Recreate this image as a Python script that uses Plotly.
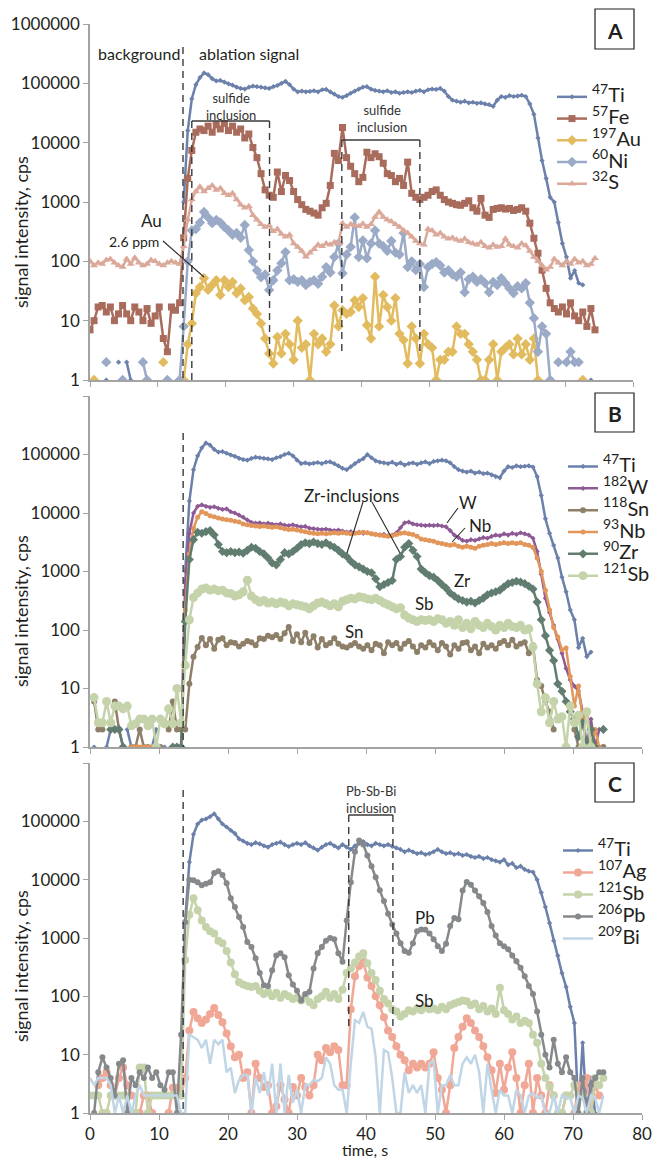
import plotly.graph_objects as go

# ---------------- data ----------------
TIME_S = [0.0, 0.6, 1.2, 1.8, 2.4, 3.0, 3.6, 4.2, 4.8, 5.4,
          6.0, 6.6, 7.2, 7.8, 8.4, 9.0, 9.6, 10.2, 10.8, 11.4,
          12.0, 12.6, 13.2, 13.8, 14.4, 15.0, 15.6, 16.2, 16.8, 17.4,
          18.0, 18.6, 19.2, 19.8, 20.4, 21.0, 21.6, 22.2, 22.8, 23.4,
          24.0, 24.6, 25.2, 25.8, 26.4, 27.0, 27.6, 28.2, 28.8, 29.4,
          30.0, 30.6, 31.2, 31.8, 32.4, 33.0, 33.6, 34.2, 34.8, 35.4,
          36.0, 36.6, 37.2, 37.8, 38.4, 39.0, 39.6, 40.2, 40.8, 41.4,
          42.0, 42.6, 43.2, 43.8, 44.4, 45.0, 45.6, 46.2, 46.8, 47.4,
          48.0, 48.6, 49.2, 49.8, 50.4, 51.0, 51.6, 52.2, 52.8, 53.4,
          54.0, 54.6, 55.2, 55.8, 56.4, 57.0, 57.6, 58.2, 58.8, 59.4,
          60.0, 60.6, 61.2, 61.8, 62.4, 63.0, 63.6, 64.2, 64.8, 65.4,
          66.0, 66.6, 67.2, 67.8, 68.4, 69.0, 69.6, 70.2, 70.8, 71.4,
          72.0, 72.6, 73.2, 73.8, 74.4]

N = None

# Panel A
A_TI = [N, N, N, N, 1, N, N, 2, N, 2,
        1, N, N, N, N, N, N, N, N, N,
        N, N, N, 1000, 16000, 55000, 95000, 125000, 150000, 140000,
        120000, 110000, 112000, 105000, 98000, 93000, 86000, 82000, 80000, 86000,
        90000, 88000, 86000, 84000, 82000, 88000, 92000, 100000, 108000, 95000,
        80000, 72000, 74000, 72000, 73000, 75000, 72000, 78000, 79000, 72000,
        66000, 60000, 58000, 62000, 68000, 74000, 80000, 86000, 88000, 80000,
        76000, 74000, 72000, 75000, 70000, 72000, 68000, 70000, 72000, 70000,
        74000, 76000, 72000, 78000, 80000, 79000, 82000, 74000, 60000, 52000,
        50000, 48000, 50000, 47000, 48000, 46000, 47000, 45000, 44000, 41000,
        52000, 60000, 58000, 62000, 60000, 61000, 63000, 60000, 45000, 30000,
        12000, 5000, 2500, 1200, 1000, 450, 200, 118, 52, 70,
        43, 40, N, 1, N]
A_FE = [7, 10, 17, 18, 14, 17, 10, 13, 18, 13,
        10, 17, 14, 10, 16, 9, 12, 17, 5, 3,
        17, 15, 20, 250, 2500, 7400, 15000, 17000, 16000, 19000,
        15000, 20000, 17000, 21000, 16000, 19000, 15000, 17000, 12000, 14000,
        8300, 5600, 3000, 1600, 1300, 1200, 3200, 1500, 2800, 2300,
        1500, 1100, 900, 750, 700, 650, 600, 800, 950, 1900,
        6600, 5000, 18000, 5600, 4000, 3000, 2200, 2600, 6900, 5600,
        6500, 5800, 4500, 3000, 2800, 2200, 2500, 1900, 4700, 1400,
        1200, 1100, 1200, 1300, 1500, 1600, 1300, 1100, 1000, 950,
        900, 880, 950, 1050, 800, 700, 1150, 600, 550, 750,
        780, 800, 760, 780, 720, 750, 800, 700, 440, 245,
        137, 71, 35, 20, 16, 14, 17, 13, 20, 12,
        10, 14, 8, 16, 7]
A_AU = [N, 1, N, N, N, N, N, N, N, N,
        N, N, N, N, N, N, N, N, 2, N,
        N, N, N, 1, 4, 9, 29, 37, 52, 33,
        40, 48, 27, 48, 37, 45, 29, 35, 22, 25,
        16, 13, 9, 5, 2.8, 1.9, 5.3, 2.8, 6, 4,
        2.2, 10, 3.5, 4, 1, 6, 4, 5, 3, 4,
        18, 8, 15, 13, 14, 22, 17, 24, 8.4, 5,
        55, 8, 27, 17, 10, 24, 6, 4.7, 1.9, 8,
        5, 1.9, 6, 4, 3.5, 1, 2.2, 2.2, 3, 3,
        8, 6, 6, 4, 3, 2.2, 1, 1, 2.2, 4,
        1, 3, 3.5, 4, 2.7, 5, 2.7, 4, 2.2, 5,
        1, N, N, N, N, N, N, N, N, N,
        N, 1, N, N, N]
A_NI = [N, N, N, N, 2, N, N, N, 1, N,
        N, N, N, 2, 1, N, N, N, N, 1,
        N, N, 1, 8, 100, 330, 350, 450, 680, 550,
        440, 500, 450, 380, 330, 280, 300, 250, 410, 155,
        100, 70, 54, 60, 33, 48, 70, 93, 143, 48,
        50, 45, 48, 40, 45, 48, 42, 55, 80, 65,
        118, 200, 63, 130, 175, 550, 118, 225, 113, 200,
        330, 200, 180, 150, 220, 140, 130, 300, 80, 100,
        71, 90, 37, 80, 90, 97, 85, 65, 71, 60,
        55, 65, 30, 50, 55, 45, 50, 43, 30, 45,
        40, 52, 43, 35, 29, 38, 35, 43, 20, 11,
        3, 8, 6, 1, N, 2, N, 2, 3, 2,
        2, N, N, N, N]
A_S = [100, 85, 95, 90, 105, 110, 95, 85, 80, 110,
       90, 115, 95, 85, 90, 105, 100, 90, 85, 95,
       100, 95, 90, 180, 500, 1100, 1500, 1800, 1500, 1700,
       1900, 1600, 1700, 1400, 1300, 1400, 1100, 900, 800, 850,
       600, 500, 420, 380, 400, 320, 350, 290, 260, 280,
       200, 175, 150, 120, 140, 160, 190, 180, 200, 190,
       210, 200, 440, 380, 420, 400, 390, 430, 380, 420,
       560, 680, 560, 500, 470, 420, 380, 330, 300, 260,
       220, 200, 190, 350, 330, 280, 300, 260, 240, 250,
       230, 220, 240, 210, 200, 190, 210, 180, 170, 190,
       175, 180, 240, 190, 180, 170, 200, 185, 150, 118,
       100, 85, 72, 80, 110, 95, 85, 100, 90, 110,
       95, 100, 85, 90, 113]

# Panel B
B_TI = [N, 1, N, N, 1, 2, 2, N, N, 2,
        1, N, N, N, N, 1, 2, N, 1, N,
        N, N, N, 1000, 16000, 55000, 95000, 130000, 158000, 145000,
        122000, 110000, 112000, 105000, 98000, 93000, 86000, 82000, 80000, 86000,
        90000, 88000, 86000, 84000, 82000, 88000, 92000, 100000, 105000, 95000,
        80000, 70000, 72000, 69000, 71000, 73000, 70000, 74000, 75000, 70000,
        64000, 58000, 55000, 62000, 70000, 78000, 85000, 100000, 88000, 78000,
        74000, 72000, 70000, 74000, 68000, 72000, 66000, 70000, 72000, 68000,
        72000, 75000, 70000, 76000, 78000, 80000, 78000, 72000, 62000, 55000,
        52000, 50000, 52000, 48000, 50000, 47000, 48000, 45000, 42000, 40000,
        52000, 62000, 60000, 64000, 62000, 63000, 64000, 61000, 42000, 20000,
        8000, 4500, 2800, 1700, 800, 450, 220, 150, 50, 72,
        35, 42, N, N, N]
B_W = [N, N, N, N, N, N, N, N, N, N,
       N, N, N, N, N, N, N, N, N, N,
       N, N, 1, 700, 4500, 10000, 13000, 13800, 13000, 12500,
       12800, 12000, 11500, 11800, 10500, 10000, 9200, 8500, 7600, 6900,
       6700, 6800, 6500, 6700, 6400, 6300, 6500, 6200, 6100, 6300,
       6000, 5800, 5900, 5500, 5400, 5300, 5200, 5300, 5100, 5000,
       5100, 4900, 4700, 4800, 4600, 4700, 4500, 4600, 4400, 4300,
       4200, 4300, 4100, 4200, 4600, 5600, 6800, 7000, 6500, 6300,
       6200, 6100, 6200, 6100, 6200, 6000, 5800, 5000, 4200, 3800,
       3400, 3300, 3500, 3400, 3600, 3800, 3700, 4000, 4200, 4100,
       4400, 4200, 4500, 4300, 4600, 4400, 4200, 3700, 2200, 900,
       350, 200, 120, 70, 40, 22, 14, 11, 9, 4,
       1, 3, 1, 2, 2]
B_SN = [N, 6, 2, 2, N, N, 6, 2, 1, N,
        1, 1, 2, 1, 1, N, N, 1, N, 2,
        6, 2, 2, 2, 12, 35, 51, 73, 55, 70,
        48, 68, 72, 55, 62, 60, 52, 58, 65, 62,
        55, 72, 70, 80, 75, 82, 70, 88, 112, 65,
        85, 62, 90, 60, 78, 50, 70, 55, 60, 72,
        58, 52, 50, 55, 60, 52, 48, 55, 45, 58,
        55, 40, 62, 55, 60, 48, 58, 65, 52, 42,
        55, 50, 62, 55, 45, 60, 52, 38, 55, 48,
        60, 62, 45, 52, 40, 58, 50, 55, 48, 60,
        65, 55, 68, 52, 58, 62, 40, 55, 14, 11,
        6, 4, 2, N, N, N, N, 2, 1, N,
        4, 1, N, N, 1]
B_NB = [N, N, N, N, N, N, N, N, N, N,
        1, 1, 1, 1, 1, 1, N, N, N, N,
        N, N, 1, 220, 2000, 5500, 8500, 10500, 9800, 9000,
        8600, 8200, 7900, 7700, 7500, 7200, 7000, 6500, 6300, 6100,
        6000, 5900, 6000, 5800, 5700, 5800, 5600, 5400, 5200, 5300,
        5100, 4900, 4800, 4600, 4500, 4400, 4500, 4400, 4500, 4600,
        4500, 4600, 4500, 4400, 4500, 4600, 4700, 4600, 4400, 4300,
        4200, 4100, 4000, 4100, 4300, 4500, 4600, 4400, 4300, 4000,
        3600, 3500, 3400, 3300, 3100, 3000, 2900, 2800, 2900, 2700,
        2600, 2700, 2600, 2500, 2700, 2800, 2900, 3000, 2900, 3000,
        3100, 3000, 3100, 3000, 3100, 2900, 2800, 2600, 1700, 1000,
        480, 220, 110, 76, 46, 49, 16, 5, 11, 3,
        4, 1, 2, 1, N]
B_ZR = [N, N, N, N, N, 2, 2, 2, 1, N,
        N, N, N, N, N, N, N, N, N, N,
        1, 1, 1, 140, 1600, 3500, 4700, 4500, 4800, 5000,
        4200, 2900, 2200, 2100, 2200, 2100, 2150, 2050, 2300, 2600,
        2500, 2200, 2000, 1700, 1400, 1300, 1600, 2100, 2000, 2200,
        2500, 2900, 3100, 3000, 3200, 3000, 2900, 3100, 2800, 2600,
        2300, 2000, 1800, 1500, 1300, 1200, 1100, 1000, 950, 750,
        550, 600, 650, 700, 1600, 1800, 2600, 3000, 2300, 1800,
        1100, 950, 850, 800, 700, 600, 520, 430, 380, 340,
        320, 300, 310, 290, 320, 350, 400, 430, 450, 480,
        550, 620, 650, 680, 660, 620, 560, 500, 300, 150,
        80, 45, 30, 12, 9, 6, 4, 3, 1.5, 2.6,
        1, 2, 1, N, 2]
B_SB = [N, 7, 2.6, 2.6, 6, 2.6, 5, 5, 4.5, 5,
        2.3, 2.5, 3, 3, 2.3, 3, 1, 3, 2.5, 4.5,
        2.5, 10, 2.6, 25, 150, 360, 430, 500, 520, 480,
        500, 470, 480, 430, 420, 380, 400, 450, 710, 380,
        330, 300, 320, 290, 300, 280, 300, 290, 260, 280,
        270, 260, 250, 230, 260, 290, 300, 280, 260, 280,
        250, 310, 330, 350, 340, 370, 360, 340, 330, 350,
        320, 290, 270, 250, 230, 240, 180, 160, 150, 140,
        150, 145, 150, 140, 155, 150, 130, 140, 120, 150,
        110, 130, 105, 140, 120, 110, 130, 115, 100, 120,
        110, 130, 115, 110, 120, 100, 105, 51, 12, 4,
        7, 2.6, 6, 3, 3.3, 1, 5, 2.6, 3.5, 1,
        4, 1, N, N, N]

# Panel C
C_TI = [N, N, N, N, N, N, N, N, N, N,
        N, N, N, N, N, N, N, N, N, N,
        N, N, N, 2000, 20000, 60000, 90000, 105000, 110000, 120000,
        135000, 110000, 90000, 80000, 70000, 62000, 50000, 46000, 42000, 40000,
        43000, 41000, 38000, 36000, 40000, 42000, 44000, 40000, 37000, 40000,
        42000, 40000, 43000, 38000, 35000, 32000, 36000, 40000, 42000, 38000,
        35000, 40000, 36000, 33000, 38000, 42000, 45000, 40000, 38000, 42000,
        40000, 38000, 40000, 37000, 35000, 33000, 30000, 32000, 30000, 28000,
        29000, 27000, 28000, 30000, 33000, 30000, 28000, 29000, 27000, 28000,
        26000, 27000, 25000, 24000, 25000, 23000, 24000, 22000, 21000, 20000,
        22000, 18000, 19000, 16000, 17000, 15000, 14000, 13500, 10000, 6000,
        3400, 1800, 900, 500, 250, 145, 66, 35, 1, 16,
        1, 4, 1, N, N]
C_AG = [N, N, 3, 4, 5, 3, 2, 4, 6, 3,
        2, N, 1, 2, 2, 1, N, N, N, 1,
        2.7, 2.7, 2, 4, 26, 54, 42, 35, 40, 50,
        63, 48, 36, 23, 14, 9, 10, 4, 5, 1,
        7, 4, 2.8, 3, 1, 1.3, 3, 1.7, 1, 2.8,
        2, 4, 2.8, 2, 3, 10, 8, 13, 11, 14,
        12, 3, 3, 60, 220, 330, 390, 210, 150, 100,
        70, 44, 26, 20, 14, 10, 8, 5.4, 7, 6,
        7, 6, 7, 11, 4, 2.5, 1, 3, 13, 20,
        30, 42, 35, 26, 20, 14, 9, 5.4, 2.2, 7,
        2.5, 6, 11, 4, 1, 3, 7, 1, 4, 2,
        1, 3, 2, N, 1, 2, N, 1, 3, 2,
        4, 1, 3, 2, N]
C_SB = [2, 2, 2, 1, 1, 2, 2, 2, 2, 2,
        1, 1, 6, 6, 1, 2, 2, 2, 2, 2,
        2, 2, 2, 420, 2500, 4800, 3000, 2000, 1550, 1300,
        1200, 900, 810, 600, 380, 240, 175, 160, 150, 145,
        150, 125, 110, 120, 100, 115, 95, 110, 100, 90,
        95, 85, 100, 80, 70, 90, 100, 120, 95, 110,
        90, 130, 250, 300, 380, 480, 550, 370, 250, 190,
        125, 90, 75, 60, 55, 45, 50, 58, 55, 62,
        58, 65, 60, 62, 58, 66, 60, 70, 75, 80,
        85, 82, 70, 75, 60, 68, 55, 62, 50, 140,
        58, 50, 40, 45, 35, 38, 35, 22, 16, 7,
        4, 2.8, 2, 1, 1, 2, 2, 3, 2, 2,
        1, 1, 4, 3, 4]
C_PB = [N, 1, 5, 9, 6, 4, 2, 7, 8, 1,
        4, 3, 5, 4, 6, 4, 5, 3, 2.5, 5,
        5, 1, 22, 1860, 10000, 9800, 9000, 8000, 8500, 9000,
        13000, 14000, 12000, 8700, 4800, 3400, 2300, 1550, 850, 700,
        450, 250, 155, 150, 280, 500, 550, 470, 230, 160,
        125, 85, 110, 120, 300, 550, 700, 900, 1000, 950,
        550, 390, 2000, 9000, 30000, 47000, 40000, 26000, 17000, 11000,
        6600, 4300, 2600, 1700, 1200, 810, 600, 560, 810, 1300,
        1400, 1380, 1200, 950, 720, 600, 800, 1600, 2200, 2100,
        6500, 9100, 8200, 6500, 5200, 4000, 2800, 1600, 1100, 810,
        720, 640, 500, 400, 310, 220, 150, 110, 55, 22,
        10, 6, 18, 7, 5, 9, 5, 4, 1, 4,
        1, 3, 4, 5, 5]
C_BI = [4, 3, 4, 4, 4, 3, 1, 2, 1, 2,
        1, 2, 3, 2, 2, 2, 2, 2, 2, 2,
        2, 2, 1, 1, 22, 20, 18, 13, 18, 7,
        18, 15, 18, 5, 6, 2.2, 3.7, 4.5, 4.5, 1,
        4, 2.2, 5, 2, 7, 1, 7, 1, 4.5, 1.5,
        2.5, 1, 3, 3, 3.7, 3.5, 4, 9, 7, 3,
        2.5, 2.5, 1, 7, 39, 35, 54, 30, 28, 9,
        1, 12, 11, 4, 1, 1, 5, 2.2, 3, 2.2,
        3, 1, 7, 8, 1, 3, 3, 4.5, 3, 3,
        7, 9, 7, 10, 5, 1, 7, 2.5, 1, 2.5,
        2, 2, 1, 2.5, 2, 1, 2, 2.2, 1.8, 2,
        1, 1, 2, 1, 2, 1.8, 1.8, 1, 2, 1.8,
        1, 2, 1.8, 1, 2]

X_TICKS = [0, 10, 20, 30, 40, 50, 60, 70, 80]
Y_TICKS = [1, 10, 100, 1000, 10000, 100000, 1000000]
Y_TICK_TEXT_A = ["1", "10", "100", "1000", "10000", "100000", "1000000"]
Y_TICK_TEXT_BC = ["1", "10", "100", "1000", "10000", "100000", ""]

# ---------------- styling ----------------
FIG_W, FIG_H = 654, 1161
FONT = "Lato"
TXT = "#231f20"
AXC = "#a3a3a3"

COLORS = {
    "Ti": "#6b80aa", "Fe": "#a86b5c", "Au": "#e2bb5f", "Ni": "#9aaac7", "S": "#dba99a",
    "W": "#8d5a96", "Sn": "#8e7f68", "Nb": "#e39659", "Zr": "#607d6f", "Sb": "#c5d3ab",
    "Ag": "#f0a796", "Pb": "#86898b", "Bi": "#c0d5e5",
}


def fx(p):
    return p / FIG_W


def fy(p):
    return 1 - p / FIG_H


fig = go.Figure()


def add(y, mass, el, xa, ya, leg, symbol, size, lsize):
    name = f"<span style='font-size:{lsize}px'><sup>{mass}</sup>{el}</span>"
    fig.add_trace(go.Scatter(
        x=TIME_S, y=y, mode="lines+markers", name=name,
        line=dict(color=COLORS[el], width=2.5),
        marker=dict(symbol=symbol, size=size, color=COLORS[el], line=dict(width=0)),
        xaxis=xa, yaxis=ya, legend=leg, connectgaps=False, hoverinfo="skip"))


# Panel A
add(A_TI, 47, "Ti", "x", "y", "legend", "diamond", 4, 20)
add(A_FE, 57, "Fe", "x", "y", "legend", "square", 7, 20)
add(A_AU, 197, "Au", "x", "y", "legend", "diamond", 8, 20)
add(A_NI, 60, "Ni", "x", "y", "legend", "diamond", 8, 20)
add(A_S, 32, "S", "x", "y", "legend", "triangle-up", 7, 20)
# Panel B
add(B_TI, 47, "Ti", "x2", "y2", "legend2", "diamond", 4, 20)
add(B_W, 182, "W", "x2", "y2", "legend2", "diamond", 4, 20)
add(B_SN, 118, "Sn", "x2", "y2", "legend2", "circle", 6, 20)
add(B_NB, 93, "Nb", "x2", "y2", "legend2", "circle", 5, 20)
add(B_ZR, 90, "Zr", "x2", "y2", "legend2", "diamond", 7, 20)
add(B_SB, 121, "Sb", "x2", "y2", "legend2", "circle", 9, 20)
# Panel C
add(C_TI, 47, "Ti", "x3", "y3", "legend3", "diamond", 4, 20)
add(C_AG, 107, "Ag", "x3", "y3", "legend3", "circle", 8, 20)
add(C_SB, 121, "Sb", "x3", "y3", "legend3", "circle", 8, 20)
add(C_PB, 206, "Pb", "x3", "y3", "legend3", "circle", 6, 20)
add(C_BI, 209, "Bi", "x3", "y3", "legend3", "line-ew", 7, 20)

# panel pixel geometry: (left, right, top, bottom)
PANELS = {
    "A": (90, 633, 24, 380),
    "B": (90, 642, 396, 747),
    "C": (90, 642, 763, 1113),
}


def xaxis(pan, ya, labels):
    l, r, t, b = PANELS[pan]
    return dict(domain=[fx(l), fx(r)], range=[0, 80], tickvals=X_TICKS, anchor=ya,
                showticklabels=labels, ticks="outside", ticklen=5, tickwidth=1.2,
                tickcolor=AXC, showline=True, linecolor=AXC, linewidth=1.5,
                showgrid=False, zeroline=False, automargin=False,
                tickfont=dict(size=17, color=TXT, family=FONT))


def yaxis(pan, xa, text):
    l, r, t, b = PANELS[pan]
    return dict(domain=[fy(b), fy(t)], type="log", range=[0, 6], anchor=xa,
                tickvals=Y_TICKS, ticktext=text, ticks="outside", ticklen=5,
                tickwidth=1.2, tickcolor=AXC, showline=True, linecolor=AXC,
                linewidth=1.5, showgrid=False, zeroline=False, automargin=False,
                tickfont=dict(size=17, color=TXT, family=FONT))


shapes = []
annotations = []


def vdash(xval, xref, ytop, ybot):
    shapes.append(dict(type="line", xref=xref, yref="paper", x0=xval, x1=xval,
                       y0=fy(ytop), y1=fy(ybot),
                       line=dict(color="#3a3a3a", width=1.4, dash="7px,5px")))


def hline(xref, x0, x1, ypx):
    shapes.append(dict(type="line", xref=xref, yref="paper", x0=x0, x1=x1,
                       y0=fy(ypx), y1=fy(ypx), line=dict(color="#3a3a3a", width=1.3)))


def seg(x0, y0, x1, y1):
    shapes.append(dict(type="line", xref="paper", yref="paper", x0=fx(x0), x1=fx(x1),
                       y0=fy(y0), y1=fy(y1), line=dict(color="#2a2a2a", width=1.1)))


def text(s, xpx, ypx, size, anchor="center", color=TXT, angle=0, bold=False,
         vanchor="middle"):
    if bold:
        s = f"<b>{s}</b>"
    annotations.append(dict(text=s, x=fx(xpx), y=fy(ypx), xref="paper", yref="paper",
                            xanchor=anchor, yanchor=vanchor, showarrow=False,
                            textangle=angle,
                            font=dict(size=size, color=color, family=FONT)))


# panel boxes
for lab, (x0, y0, x1, y1) in {"A": (595, 9, 634, 49), "B": (595, 393, 634, 432),
                              "C": (595, 763, 634, 802)}.items():
    shapes.append(dict(type="rect", xref="paper", yref="paper", x0=fx(x0), x1=fx(x1),
                       y0=fy(y1), y1=fy(y0), line=dict(color="#231f20", width=1.2)))
    text(lab, (x0 + x1) / 2, (y0 + y1) / 2 + 1, 21, bold=True)

# y-axis titles
for yc in (232, 611, 966):
    text("signal intensity, cps", 21, yc, 18, angle=-90)
text("time, s", 365, 1160.5, 16, vanchor="bottom")

# Panel A decorations
vdash(13.7, "x", 47, 380)
text("background", 182, 54, 16, anchor="right")
text("ablation signal", 197, 54, 16, anchor="left")
hline("x", 15.0, 26.45, 121)
vdash(15.0, "x", 121, 380)
vdash(26.45, "x", 121, 360)
text("sulfide<br>inclusion", 231, 106, 13, color="#333333")
hline("x", 37.1, 48.6, 140)
vdash(37.1, "x", 140, 352)
vdash(48.6, "x", 140, 352)
text("sulfide<br>inclusion", 382, 119, 13, color="#333333")
text("Au", 151, 220, 17)
text("2.6 ppm", 134, 242, 14)
seg(163, 241, 204, 277)

# Panel B decorations
vdash(13.5, "x2", 433, 747)
text("Zr-inclusions", 351, 495, 17)
seg(363, 502, 347, 553)
seg(372, 502, 400, 553)
text("W", 468, 502, 17)
seg(458, 508, 447, 523)
text("Nb", 480, 525, 17)
seg(465, 528, 452, 542)
text("Zr", 462, 580, 17)
text("Sb", 424, 603, 17)
text("Sn", 354, 631, 17)

# Panel C decorations
vdash(13.5, "x3", 790, 1113)
text("Pb-Sb-Bi<br>inclusion", 371, 799, 13, color="#333333")
hline("x3", 37.5, 43.9, 815)
vdash(37.5, "x3", 815, 1027)
vdash(43.9, "x3", 815, 1027)
text("Pb", 425, 917, 17)
text("Sb", 424, 1000, 17)


def legend(xpx, ytop, fsize):
    return dict(x=fx(xpx), y=fy(ytop), xanchor="left", yanchor="top",
                xref="paper", yref="paper", bgcolor="rgba(0,0,0,0)",
                borderwidth=0, tracegroupgap=0,
                font=dict(size=fsize, color=TXT, family=FONT))


fig.update_layout(
    width=FIG_W, height=FIG_H, autosize=False,
    margin=dict(l=0, r=0, t=0, b=0, pad=0, autoexpand=False),
    paper_bgcolor="white", plot_bgcolor="white",
    font=dict(family=FONT, color=TXT),
    showlegend=True,
    xaxis=xaxis("A", "y", False), yaxis=yaxis("A", "x", Y_TICK_TEXT_A),
    xaxis2=xaxis("B", "y2", False), yaxis2=yaxis("B", "x2", Y_TICK_TEXT_BC),
    xaxis3=xaxis("C", "y3", True), yaxis3=yaxis("C", "x3", Y_TICK_TEXT_BC),
    legend=legend(552, 81.0, 14.4),
    legend2=legend(563, 450.5, 14.5),
    legend3=legend(558, 834.5, 14.6),
    shapes=shapes, annotations=annotations,
)

fig.write_html("out.html")
